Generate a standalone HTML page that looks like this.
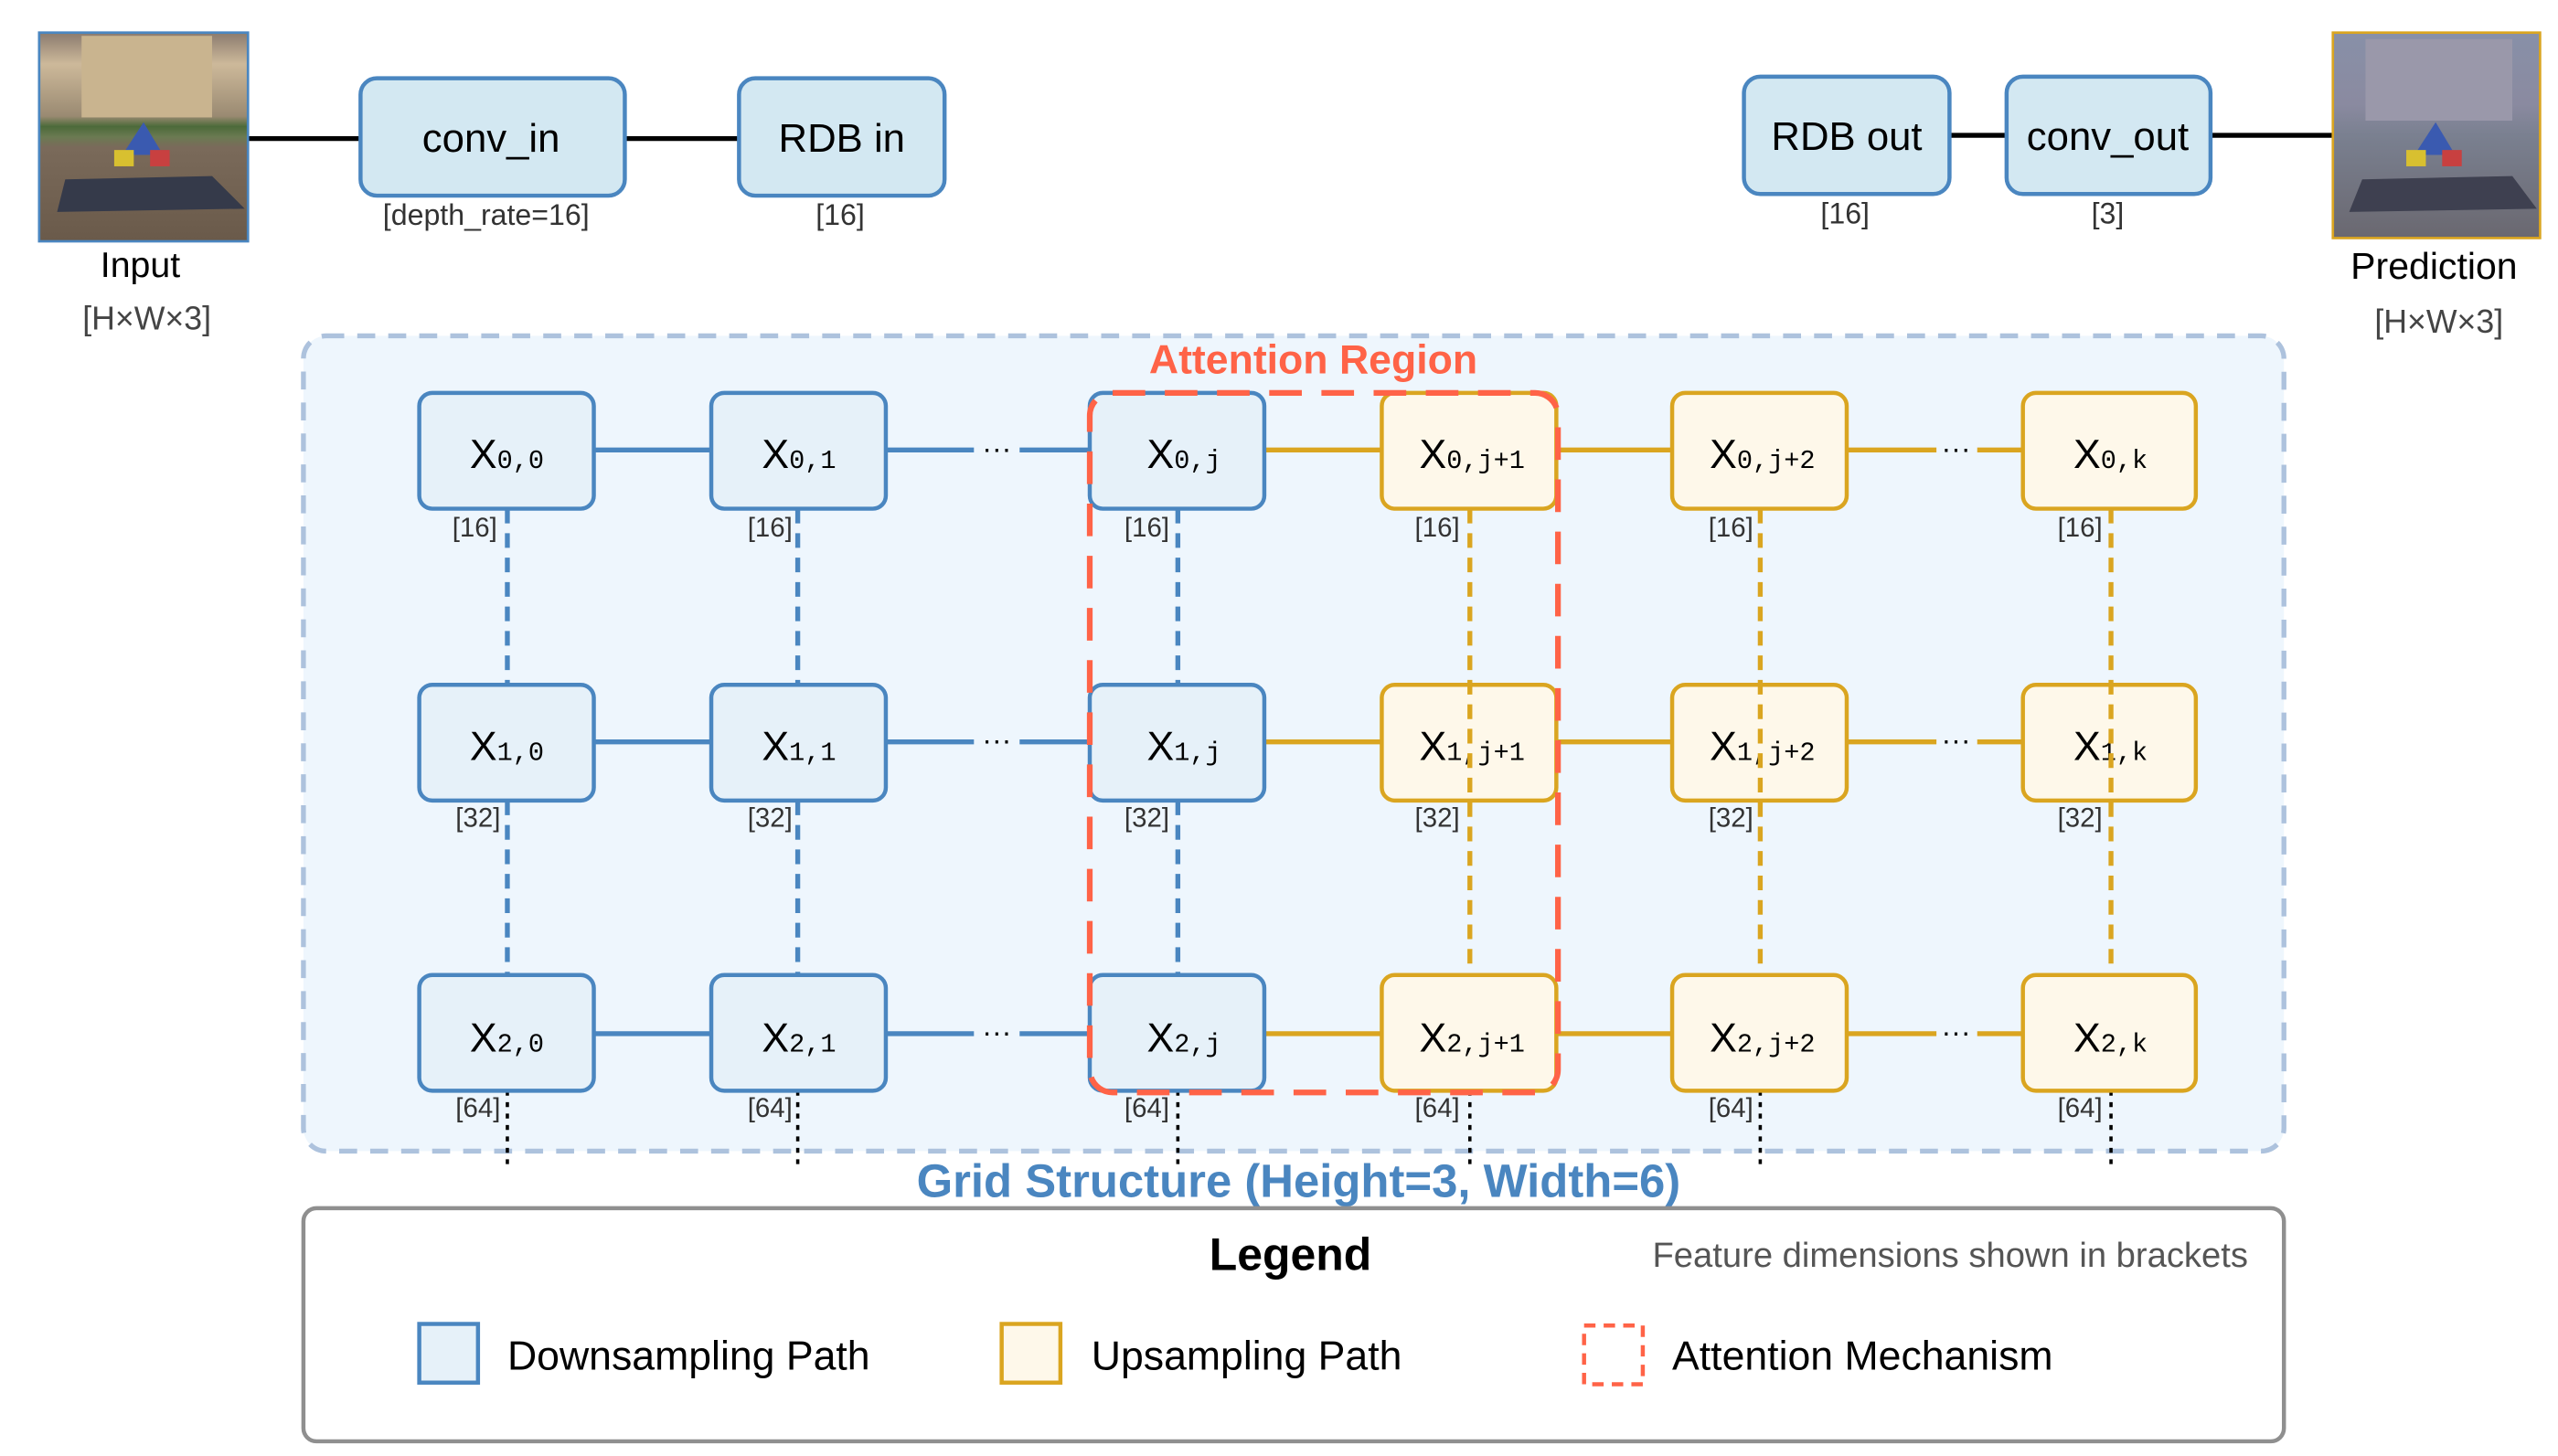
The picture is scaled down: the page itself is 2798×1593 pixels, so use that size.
<!DOCTYPE html>
<html><head><meta charset="utf-8"><style>
html,body{margin:0;padding:0;background:#fff;}
svg{display:block;}
text{font-family:"Liberation Sans",sans-serif;}
</style></head><body>
<svg width="2798" height="1593" viewBox="0 0 1568 893" preserveAspectRatio="none" xmlns="http://www.w3.org/2000/svg">
<defs>
<linearGradient id="gin" x1="0" y1="0" x2="0" y2="1">
<stop offset="0" stop-color="#8a7a6e"/><stop offset="0.15" stop-color="#cdb99a"/><stop offset="0.4" stop-color="#9a8a72"/><stop offset="0.45" stop-color="#4c6a3a"/><stop offset="0.5" stop-color="#6b7a52"/><stop offset="0.55" stop-color="#7a6a5a"/><stop offset="1" stop-color="#6a5a4a"/>
</linearGradient>
<linearGradient id="gout" x1="0" y1="0" x2="0" y2="1">
<stop offset="0" stop-color="#8890a8"/><stop offset="0.35" stop-color="#8a8aa0"/><stop offset="0.5" stop-color="#7a8090"/><stop offset="1" stop-color="#6a6870"/>
</linearGradient>
</defs>

<line x1="152" y1="85" x2="221" y2="85" stroke="#000" stroke-width="3"/>
<line x1="383" y1="85" x2="453" y2="85" stroke="#000" stroke-width="3"/>
<line x1="1195" y1="83" x2="1230" y2="83" stroke="#000" stroke-width="3"/>
<line x1="1355" y1="83" x2="1430" y2="83" stroke="#000" stroke-width="3"/>

<rect x="24" y="20" width="128" height="128" fill="url(#gin)" stroke="#4a86c0" stroke-width="1.5"/>
<rect x="50" y="22" width="80" height="50" fill="#c9b48f"/>
<polygon points="40,110 130,108 150,128 35,130" fill="#353a4a"/>
<polygon points="75,95 88,75 100,95" fill="#3a5ab0"/>
<rect x="70" y="92" width="12" height="10" fill="#d8c030"/><rect x="92" y="92" width="12" height="10" fill="#c84040"/>
<text x="86" y="170" font-size="22" text-anchor="middle" fill="#000">Input</text>
<text x="90" y="202" font-size="20" text-anchor="middle" fill="#444">[H×W×3]</text>

<rect x="1430" y="20" width="127" height="126" fill="url(#gout)" stroke="#daa520" stroke-width="1.5"/>
<rect x="1450" y="24" width="90" height="50" fill="#9a98aa"/>
<polygon points="1448,110 1540,108 1555,128 1440,130" fill="#3e4050"/>
<polygon points="1480,95 1493,75 1505,95" fill="#3a5ab0"/>
<rect x="1475" y="92" width="12" height="10" fill="#d8c030"/><rect x="1497" y="92" width="12" height="10" fill="#c84040"/>
<text x="1492" y="171" font-size="23" text-anchor="middle" fill="#000">Prediction</text>
<text x="1495" y="204" font-size="20" text-anchor="middle" fill="#444">[H×W×3]</text>

<g fill="#d3e8f2" stroke="#4a86c0" stroke-width="2.5">
<rect x="221" y="48" width="162" height="72" rx="10"/>
<rect x="453" y="48" width="126" height="72" rx="10"/>
<rect x="1069" y="47" width="126" height="72" rx="10"/>
<rect x="1230" y="47" width="125" height="72" rx="10"/>
</g>
<g font-size="24.5" text-anchor="middle" fill="#000">
<text x="301" y="93">conv_in</text>
<text x="516" y="93">RDB in</text>
<text x="1132" y="92">RDB out</text>
<text x="1292" y="92">conv_out</text>
</g>
<g font-size="18" text-anchor="middle" fill="#333">
<text x="298" y="138">[depth_rate=16]</text>
<text x="515" y="138">[16]</text>
<text x="1131" y="137">[16]</text>
<text x="1292" y="137">[3]</text>
</g>

<rect x="186" y="206" width="1214" height="500" rx="14" fill="#eef6fd" stroke="#adc2dd" stroke-width="3" stroke-dasharray="11,8"/>
<text x="805" y="229" font-size="25" font-weight="bold" text-anchor="middle" fill="#ff6347">Attention  Region</text>
<text x="796" y="734" font-size="28.5" font-weight="bold" text-anchor="middle" fill="#4a86c0">Grid Structure (Height=3, Width=6)</text>

<g stroke-width="3">
<g stroke="#4a86c0">
<line x1="364" y1="276" x2="436" y2="276"/><line x1="543" y1="276" x2="597" y2="276"/><line x1="625" y1="276" x2="668" y2="276"/>
<line x1="364" y1="455" x2="436" y2="455"/><line x1="543" y1="455" x2="597" y2="455"/><line x1="625" y1="455" x2="668" y2="455"/>
<line x1="364" y1="634" x2="436" y2="634"/><line x1="543" y1="634" x2="597" y2="634"/><line x1="625" y1="634" x2="668" y2="634"/>
</g>
<g stroke="#daa520">
<line x1="775" y1="276" x2="847" y2="276"/><line x1="954" y1="276" x2="1025" y2="276"/><line x1="1132" y1="276" x2="1187" y2="276"/><line x1="1212" y1="276" x2="1240" y2="276"/>
<line x1="775" y1="455" x2="847" y2="455"/><line x1="954" y1="455" x2="1025" y2="455"/><line x1="1132" y1="455" x2="1187" y2="455"/><line x1="1212" y1="455" x2="1240" y2="455"/>
<line x1="775" y1="634" x2="847" y2="634"/><line x1="954" y1="634" x2="1025" y2="634"/><line x1="1132" y1="634" x2="1187" y2="634"/><line x1="1212" y1="634" x2="1240" y2="634"/>
</g>
</g>
<g font-size="18" text-anchor="middle" fill="#000">
<text x="611" y="281">···</text><text x="611" y="460">···</text><text x="611" y="639">···</text>
<text x="1199" y="281">···</text><text x="1199" y="460">···</text><text x="1199" y="639">···</text>
</g>

<g stroke="#4a86c0" stroke-width="3" stroke-dasharray="9,6">
<line x1="311" y1="312" x2="311" y2="420"/><line x1="311" y1="491" x2="311" y2="598"/>
<line x1="489" y1="312" x2="489" y2="420"/><line x1="489" y1="491" x2="489" y2="598"/>
<line x1="722" y1="312" x2="722" y2="420"/><line x1="722" y1="491" x2="722" y2="598"/>
</g>
<g stroke="#000" stroke-width="2" stroke-dasharray="3,4">
<line x1="311" y1="669" x2="311" y2="714"/><line x1="489" y1="669" x2="489" y2="714"/><line x1="722" y1="669" x2="722" y2="714"/>
<line x1="901" y1="669" x2="901" y2="714"/><line x1="1079" y1="669" x2="1079" y2="714"/><line x1="1294" y1="669" x2="1294" y2="714"/>
</g>

<g fill="#e6f1f9" stroke="#4a86c0" stroke-width="2.5">
<rect x="257" y="241" width="107" height="71" rx="8"/><rect x="436" y="241" width="107" height="71" rx="8"/><rect x="668" y="241" width="107" height="71" rx="8"/>
<rect x="257" y="420" width="107" height="71" rx="8"/><rect x="436" y="420" width="107" height="71" rx="8"/><rect x="668" y="420" width="107" height="71" rx="8"/>
<rect x="257" y="598" width="107" height="71" rx="8"/><rect x="436" y="598" width="107" height="71" rx="8"/><rect x="668" y="598" width="107" height="71" rx="8"/>
</g>
<g fill="#fef8ea" stroke="#daa520" stroke-width="2.5">
<rect x="847" y="241" width="107" height="71" rx="8"/><rect x="1025" y="241" width="107" height="71" rx="8"/><rect x="1240" y="241" width="106" height="71" rx="8"/>
<rect x="847" y="420" width="107" height="71" rx="8"/><rect x="1025" y="420" width="107" height="71" rx="8"/><rect x="1240" y="420" width="106" height="71" rx="8"/>
<rect x="847" y="598" width="107" height="71" rx="8"/><rect x="1025" y="598" width="107" height="71" rx="8"/><rect x="1240" y="598" width="106" height="71" rx="8"/>
</g>

<g font-size="25" fill="#000">
<text x="288" y="287">X<tspan font-size="16" font-family="Liberation Mono,monospace">0,0</tspan></text>
<text x="467" y="287">X<tspan font-size="16" font-family="Liberation Mono,monospace">0,1</tspan></text>
<text x="703" y="287">X<tspan font-size="16" font-family="Liberation Mono,monospace">0,j</tspan></text>
<text x="870" y="287">X<tspan font-size="16" font-family="Liberation Mono,monospace">0,j+1</tspan></text>
<text x="1048" y="287">X<tspan font-size="16" font-family="Liberation Mono,monospace">0,j+2</tspan></text>
<text x="1271" y="287">X<tspan font-size="16" font-family="Liberation Mono,monospace">0,k</tspan></text>
<text x="288" y="466">X<tspan font-size="16" font-family="Liberation Mono,monospace">1,0</tspan></text>
<text x="467" y="466">X<tspan font-size="16" font-family="Liberation Mono,monospace">1,1</tspan></text>
<text x="703" y="466">X<tspan font-size="16" font-family="Liberation Mono,monospace">1,j</tspan></text>
<text x="870" y="466">X<tspan font-size="16" font-family="Liberation Mono,monospace">1,j+1</tspan></text>
<text x="1048" y="466">X<tspan font-size="16" font-family="Liberation Mono,monospace">1,j+2</tspan></text>
<text x="1271" y="466">X<tspan font-size="16" font-family="Liberation Mono,monospace">1,k</tspan></text>
<text x="288" y="645">X<tspan font-size="16" font-family="Liberation Mono,monospace">2,0</tspan></text>
<text x="467" y="645">X<tspan font-size="16" font-family="Liberation Mono,monospace">2,1</tspan></text>
<text x="703" y="645">X<tspan font-size="16" font-family="Liberation Mono,monospace">2,j</tspan></text>
<text x="870" y="645">X<tspan font-size="16" font-family="Liberation Mono,monospace">2,j+1</tspan></text>
<text x="1048" y="645">X<tspan font-size="16" font-family="Liberation Mono,monospace">2,j+2</tspan></text>
<text x="1271" y="645">X<tspan font-size="16" font-family="Liberation Mono,monospace">2,k</tspan></text>
</g>

<g stroke="#daa520" stroke-width="3" stroke-dasharray="9,6">
<line x1="901" y1="312" x2="901" y2="598"/>
<line x1="1079" y1="312" x2="1079" y2="598"/>
<line x1="1294" y1="312" x2="1294" y2="598"/>
</g>

<g font-size="16.5" text-anchor="middle" fill="#333">
<text x="291" y="329">[16]</text><text x="472" y="329">[16]</text><text x="703" y="329">[16]</text><text x="881" y="329">[16]</text><text x="1061" y="329">[16]</text><text x="1275" y="329">[16]</text>
<text x="293" y="507">[32]</text><text x="472" y="507">[32]</text><text x="703" y="507">[32]</text><text x="881" y="507">[32]</text><text x="1061" y="507">[32]</text><text x="1275" y="507">[32]</text>
<text x="293" y="685">[64]</text><text x="472" y="685">[64]</text><text x="703" y="685">[64]</text><text x="881" y="685">[64]</text><text x="1061" y="685">[64]</text><text x="1275" y="685">[64]</text>
</g>

<rect x="668" y="241" width="287" height="429" rx="14" fill="none" stroke="#ff6347" stroke-width="3.5" stroke-dasharray="20,12"/>

<rect x="186" y="741" width="1214" height="143" rx="8" fill="#fff" stroke="#8f8f8f" stroke-width="2.5"/>
<text x="791" y="779" font-size="28" font-weight="bold" text-anchor="middle" fill="#000">Legend</text>
<text x="1378" y="777" font-size="21.4" text-anchor="end" fill="#555">Feature dimensions shown in brackets</text>
<rect x="257" y="812" width="36" height="36" fill="#e6f1f9" stroke="#4a86c0" stroke-width="2.5"/>
<text x="311" y="840" font-size="25" fill="#000">Downsampling  Path</text>
<rect x="614" y="812" width="36" height="36" fill="#fef8ea" stroke="#daa520" stroke-width="2.5"/>
<text x="669" y="840" font-size="25" fill="#000">Upsampling  Path</text>
<rect x="971" y="813" width="36" height="36" fill="none" stroke="#ff6347" stroke-width="2.5" stroke-dasharray="7,5"/>
<text x="1025" y="840" font-size="25" fill="#000">Attention  Mechanism</text>
</svg>
</body></html>
